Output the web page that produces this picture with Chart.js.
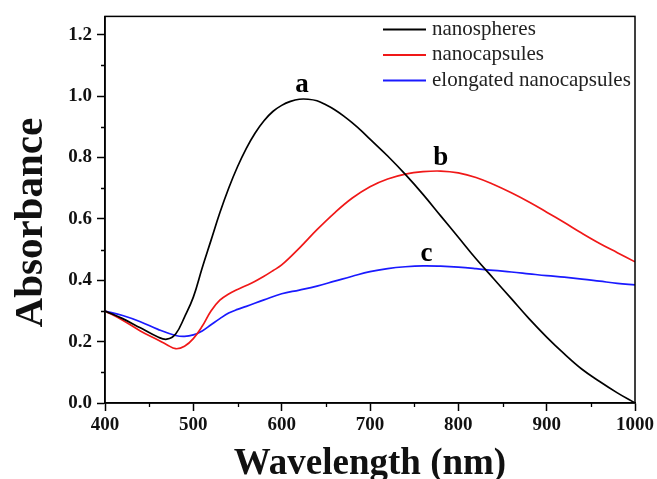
<!DOCTYPE html>
<html>
<head>
<meta charset="utf-8">
<script src="https://cdn.jsdelivr.net/npm/chart.js@4/dist/chart.umd.min.js"></script>
<style>
    html, body { margin: 0; padding: 0; background: #fff; }
    #wrap { width: 657px; height: 479px; }
</style>
</head>
<body>
<div id="wrap"><canvas id="spectra-canvas-id"></canvas></div>
<script>
// wavelength (nm) / absorbance
const sphereWavelengths = [400, 420, 440, 460, 470, 480, 490, 500, 510, 520, 530, 540, 550, 560, 570, 580, 590, 600, 610, 620, 630, 640, 650, 660, 670, 680, 690, 700, 720, 740, 760, 780, 800, 820, 840, 860, 880, 900, 920, 940, 960, 980, 1000];
const sphereAbsorbance = [0.30, 0.275, 0.245, 0.215, 0.208, 0.225, 0.28, 0.345, 0.44, 0.53, 0.62, 0.70, 0.77, 0.83, 0.88, 0.92, 0.95, 0.97, 0.983, 0.99, 0.99, 0.985, 0.972, 0.956, 0.936, 0.913, 0.888, 0.86, 0.805, 0.745, 0.68, 0.61, 0.54, 0.47, 0.405, 0.34, 0.275, 0.215, 0.16, 0.11, 0.07, 0.033, 0.0];

const capsuleWavelengths = [400, 420, 440, 460, 470, 480, 490, 500, 510, 520, 530, 540, 550, 560, 570, 580, 590, 600, 620, 640, 660, 680, 700, 720, 740, 760, 780, 800, 820, 840, 860, 880, 900, 920, 940, 960, 980, 1000];
const capsuleAbsorbance = [0.30, 0.27, 0.235, 0.205, 0.19, 0.177, 0.185, 0.21, 0.25, 0.30, 0.335, 0.355, 0.37, 0.383, 0.397, 0.413, 0.431, 0.45, 0.505, 0.565, 0.62, 0.668, 0.705, 0.73, 0.746, 0.754, 0.756, 0.75, 0.735, 0.712, 0.685, 0.655, 0.622, 0.588, 0.553, 0.52, 0.49, 0.46];

const elongatedWavelengths = [400, 420, 440, 460, 480, 490, 500, 510, 520, 530, 540, 550, 560, 580, 600, 620, 640, 660, 680, 700, 720, 740, 760, 780, 800, 820, 840, 860, 880, 900, 920, 940, 960, 980, 1000];
const elongatedAbsorbance = [0.30, 0.285, 0.265, 0.24, 0.22, 0.217, 0.222, 0.235, 0.255, 0.275, 0.293, 0.305, 0.315, 0.336, 0.356, 0.368, 0.381, 0.397, 0.413, 0.428, 0.438, 0.444, 0.447, 0.446, 0.443, 0.438, 0.432, 0.427, 0.421, 0.415, 0.41, 0.404, 0.397, 0.39, 0.385];

const seriesLabels = ['nanospheres', 'nanocapsules', 'elongated nanocapsules'];
const seriesColors = ['#000000', '#f01818', '#1a1aff'];

// peak letters, placed in data coordinates
const peakLetters = ['a', 'b', 'c'];
const peakLetterX = [623, 780, 764];
const peakLetterY = [1.035, 0.80, 0.485];

const xTickValues = [400, 500, 600, 700, 800, 900, 1000];
const yTickValues = [0.0, 0.2, 0.4, 0.6, 0.8, 1.0, 1.2];
const xMinorTicks = [450, 550, 650, 750, 850, 950];
const yMinorTicks = [0.1, 0.3, 0.5, 0.7, 0.9, 1.1];

const SERIF = '"Liberation Serif", "Times New Roman", serif';

const toPoints = (xs, ys) => xs.map((x, i) => ({ x: x, y: ys[i] }));

const frameAndExtras = {
    id: 'frameAndExtras',
    afterDraw(chart) {
        const ctx = chart.ctx;
        const area = chart.chartArea;
        const xs = chart.scales.x;
        const ys = chart.scales.y;
        ctx.save();
        ctx.strokeStyle = '#000';
        ctx.lineWidth = 1.5;
        ctx.strokeRect(area.left, area.top, area.right - area.left, area.bottom - area.top);

        // minor ticks
        ctx.lineWidth = 1.3;
        ctx.beginPath();
        xMinorTicks.forEach((v) => {
            const px = Math.round(xs.getPixelForValue(v)) + 0.5;
            ctx.moveTo(px, area.bottom);
            ctx.lineTo(px, area.bottom + 4);
        });
        yMinorTicks.forEach((v) => {
            const py = Math.round(ys.getPixelForValue(v)) + 0.5;
            ctx.moveTo(area.left, py);
            ctx.lineTo(area.left - 4, py);
        });
        ctx.stroke();

        // y axis title, a little below the axis middle as in the original
        ctx.save();
        ctx.translate(31, (area.top + area.bottom) / 2 + 13);
        ctx.rotate(-Math.PI / 2);
        ctx.font = 'bold 41px ' + SERIF;
        ctx.textAlign = 'center';
        ctx.textBaseline = 'middle';
        ctx.fillStyle = '#111';
        ctx.fillText('Absorbance', 0, 0);
        ctx.restore();

        // legend inside the plot, top right
        ctx.font = '21px ' + SERIF;
        ctx.textBaseline = 'middle';
        ctx.textAlign = 'left';
        chart.data.datasets.forEach((ds, i) => {
            const y = area.top + 13 + i * 25.5;
            const x0 = area.right - 252;
            ctx.strokeStyle = ds.borderColor;
            ctx.lineWidth = 2;
            ctx.beginPath();
            ctx.moveTo(x0, y);
            ctx.lineTo(x0 + 43, y);
            ctx.stroke();
            ctx.fillStyle = '#222';
            ctx.fillText(ds.label, x0 + 49, y);
        });

        // peak letters
        ctx.font = 'bold 27px ' + SERIF;
        ctx.textAlign = 'center';
        ctx.fillStyle = '#000';
        peakLetters.forEach((t, i) => {
            ctx.fillText(t, xs.getPixelForValue(peakLetterX[i]), ys.getPixelForValue(peakLetterY[i]));
        });
        ctx.restore();
    }
};

const makeDataset = (label, color, xs, ys) => ({
    label: label,
    data: toPoints(xs, ys),
    borderColor: color,
    backgroundColor: color,
    borderWidth: 1.7,
    pointRadius: 0,
    tension: 0.4,
    fill: false,
});

new Chart(document.getElementById('spectra-canvas-id'), {
    type: 'line',
    plugins: [frameAndExtras],
    data: {
        datasets: [
            makeDataset(seriesLabels[0], seriesColors[0], sphereWavelengths, sphereAbsorbance),
            makeDataset(seriesLabels[1], seriesColors[1], capsuleWavelengths, capsuleAbsorbance),
            makeDataset(seriesLabels[2], seriesColors[2], elongatedWavelengths, elongatedAbsorbance),
        ]
    },
    options: {
        responsive: true,
        maintainAspectRatio: false,
        animation: false,
        layout: { padding: { top: 15, right: 21, left: 0, bottom: 0 } },
        plugins: {
            legend: { display: false },
            tooltip: { enabled: false },
        },
        scales: {
            x: {
                type: 'linear',
                min: 400,
                max: 1000,
                afterFit: (scale) => { scale.height = 76; },
                afterBuildTicks: (scale) => { scale.ticks = xTickValues.map((v) => ({ value: v })); },
                border: { display: true, color: '#000', width: 1.5 },
                grid: { drawOnChartArea: false, drawTicks: true, tickLength: 8, tickColor: '#000', tickWidth: 1.5 },
                ticks: {
                    padding: 3,
                    color: '#111',
                    font: { family: SERIF, size: 19, weight: 'bold' },
                    maxRotation: 0,
                    callback: (value) => String(value),
                },
                title: {
                    display: true,
                    text: 'Wavelength (nm)',
                    color: '#111',
                    font: { family: SERIF, size: 37, weight: 'bold', lineHeight: 1 },
                    padding: { top: 0, bottom: -4 },
                }
            },
            y: {
                min: 0,
                max: 1.26,
                afterFit: (scale) => { scale.width = 105; },
                afterBuildTicks: (scale) => { scale.ticks = yTickValues.map((v) => ({ value: v })); },
                border: { display: true, color: '#000', width: 1.5 },
                grid: { drawOnChartArea: false, drawTicks: true, tickLength: 8, tickColor: '#000', tickWidth: 1.5 },
                ticks: {
                    padding: 5,
                    color: '#111',
                    font: { family: SERIF, size: 19, weight: 'bold' },
                    callback: (value) => Number(value).toFixed(1),
                },
                title: { display: false }
            }
        }
    }
});
</script>
</body>
</html>
